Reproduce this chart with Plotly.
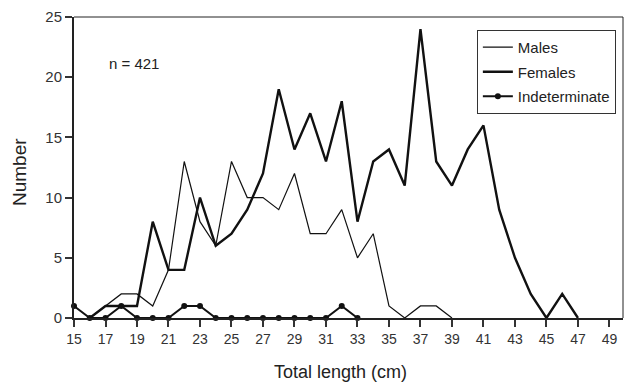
import plotly.graph_objects as go

males_x = list(range(16, 40))
males_y = [0, 1, 2, 2, 1, 4, 13, 8, 6, 13, 10, 10, 9, 12, 7, 7, 9, 5, 7, 1, 0, 1, 1, 0]
females_x = list(range(16, 48))
females_y = [0, 1, 1, 1, 8, 4, 4, 10, 6, 7, 9, 12, 19, 14, 17, 13, 18, 8, 13, 14, 11,
             24, 13, 11, 14, 16, 9, 5, 2, 0, 2, 0]
indet_x = list(range(15, 34))
indet_y = [1, 0, 0, 1, 0, 0, 0, 1, 1, 0, 0, 0, 0, 0, 0, 0, 0, 1, 0]
x_ticks = list(range(15, 50, 2))
y_ticks = [0, 5, 10, 15, 20, 25]

FONT = "Liberation Sans, Arial, sans-serif"

fig = go.Figure()
fig.add_trace(go.Scatter(x=males_x, y=males_y, mode="lines", name="Males",
                         line=dict(color="#111", width=1.2), legendgroup="m",
                         cliponaxis=False))
fig.add_trace(go.Scatter(x=females_x, y=females_y, mode="lines", name="Females",
                         line=dict(color="#111", width=2.4), legendgroup="f",
                         cliponaxis=False))
fig.add_trace(go.Scatter(x=indet_x, y=indet_y, mode="lines+markers", name="Indeterminate",
                         line=dict(color="#111", width=2),
                         marker=dict(color="#111", size=6), legendgroup="i",
                         cliponaxis=False))

# plot area: x 74..623, y 17..318
fig.update_layout(
    width=625, height=385,
    margin=dict(l=74, r=2, t=17, b=67),
    plot_bgcolor="white", paper_bgcolor="white",
    font=dict(family=FONT, size=14, color="#222"),
    showlegend=True,
    legend=dict(x=0.987, y=0.957, xanchor="right", yanchor="top",
                bordercolor="#333", borderwidth=1, bgcolor="white",
                font=dict(size=15, family=FONT, color="#222"),
                tracegroupgap=2, traceorder="grouped",
                itemwidth=30),
    xaxis=dict(range=[15, 49.86], tickvals=x_ticks, ticks="outside", ticklen=7,
               tickwidth=1.5, tickcolor="#333", showline=True, linecolor="#222",
               linewidth=2, showgrid=False, zeroline=False,
               tickfont=dict(size=14, color="#333")),
    yaxis=dict(range=[0, 25], tickvals=y_ticks, ticks="outside", ticklen=7,
               tickwidth=1.5, tickcolor="#333", showline=True, linecolor="#222",
               linewidth=2, showgrid=False, zeroline=False,
               tickfont=dict(size=15, color="#333")),
    shapes=[
        dict(type="line", xref="paper", yref="paper", x0=0, x1=1, y0=1, y1=1,
             line=dict(color="#222", width=1)),
        dict(type="line", xref="paper", yref="paper", x0=1, x1=1, y0=0, y1=1,
             line=dict(color="#222", width=1)),
    ],
    annotations=[
        dict(text="n = 421", x=0.06, y=0.847, xref="paper", yref="paper", xanchor="left",
             yanchor="middle", showarrow=False, font=dict(size=15)),
        dict(text="Total length (cm)", x=(340 - 74) / 549, y=(318 - 372) / 301,
             xref="paper", yref="paper", xanchor="center", yanchor="middle",
             showarrow=False, font=dict(size=18)),
        dict(text="Number", x=(20 - 74) / 549, y=(318 - 172) / 301,
             xref="paper", yref="paper", xanchor="center", yanchor="middle",
             textangle=-90, showarrow=False, font=dict(size=19)),
    ],
)

fig.write_html("out.html")
